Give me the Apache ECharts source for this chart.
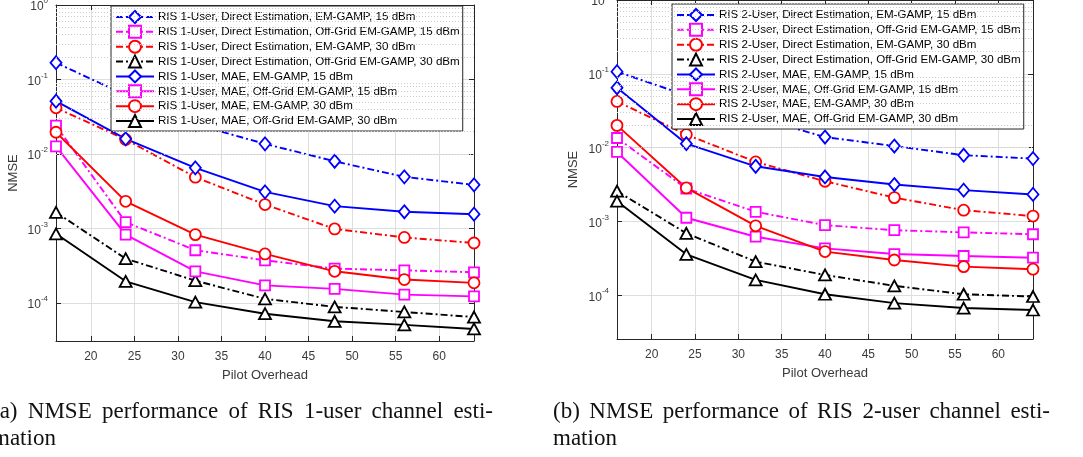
<!DOCTYPE html>
<html>
<head>
<meta charset="utf-8">
<script src="https://cdn.jsdelivr.net/npm/echarts@6/dist/echarts.min.js"></script>
<style>
  html, body { margin: 0; padding: 0; background: #fff; }
  #chart { width: 1083px; height: 457px; }
</style>
</head>
<body>
<div id="chart"></div>
<script>
// pilot overhead (x axis)
const pilotOverhead = [16, 24, 32, 40, 48, 56, 64];

// (a) RIS 1-user, NMSE
const u1DirEm15 = [0.168, 0.062, 0.025, 0.0137, 0.0080, 0.00494, 0.00386];
const u1DirOff15 = [0.024, 0.00122, 0.000512, 0.000375, 0.00029, 0.000275, 0.000259];
const u1DirEm30 = [0.0417, 0.0157, 0.00489, 0.0021, 0.00099, 0.00076, 0.00064];
const u1DirOff30 = [0.00165, 0.000395, 0.0002, 0.000114, 0.000089, 0.000076, 0.000065];
const u1MaeEm15 = [0.0512, 0.016, 0.00653, 0.00311, 0.0020, 0.00168, 0.00156];
const u1MaeOff15 = [0.0127, 0.00083, 0.000267, 0.000173, 0.000155, 0.00013, 0.000123];
const u1MaeEm30 = [0.0196, 0.00232, 0.00083, 0.000457, 0.000267, 0.000207, 0.000187];
const u1MaeOff30 = [0.00085, 0.000196, 0.000103, 0.000072, 0.000057, 0.000051, 0.000045];

// (b) RIS 2-user
const u2DirEm15 = [0.107, 0.051, 0.026, 0.0139, 0.0105, 0.00788, 0.0071];
const u2DirOff15 = [0.0135, 0.00279, 0.00135, 0.00089, 0.00076, 0.00071, 0.00067];
const u2DirEm30 = [0.0422, 0.015, 0.0064, 0.0035, 0.0021, 0.00142, 0.00118];
const u2DirOff30 = [0.00257, 0.00069, 0.000285, 0.000188, 0.000134, 0.000103, 0.000096];
const u2MaeEm15 = [0.0646, 0.0113, 0.00558, 0.0040, 0.00316, 0.00265, 0.00232];
const u2MaeOff15 = [0.00873, 0.00112, 0.00062, 0.000431, 0.000361, 0.00034, 0.000322];
const u2MaeEm30 = [0.020, 0.00284, 0.00087, 0.00039, 0.0003, 0.000244, 0.000225];
const u2MaeOff30 = [0.00188, 0.000358, 0.000161, 0.000103, 0.000078, 0.000067, 0.000063];

const labels1 = [
  "RIS 1-User, Direct Estimation, EM-GAMP, 15 dBm",
  "RIS 1-User, Direct Estimation, Off-Grid EM-GAMP, 15 dBm",
  "RIS 1-User, Direct Estimation, EM-GAMP, 30 dBm",
  "RIS 1-User, Direct Estimation, Off-Grid EM-GAMP, 30 dBm",
  "RIS 1-User, MAE, EM-GAMP, 15 dBm",
  "RIS 1-User, MAE, Off-Grid EM-GAMP, 15 dBm",
  "RIS 1-User, MAE, EM-GAMP, 30 dBm",
  "RIS 1-User, MAE, Off-Grid EM-GAMP, 30 dBm",
];
const labels2 = labels1.map((s) => s.replace("RIS 1-User", "RIS 2-User"));
const values1 = [u1DirEm15, u1DirOff15, u1DirEm30, u1DirOff30, u1MaeEm15, u1MaeOff15, u1MaeEm30, u1MaeOff30];
const values2 = [u2DirEm15, u2DirOff15, u2DirEm30, u2DirOff30, u2MaeEm15, u2MaeOff15, u2MaeEm30, u2MaeOff30];

const captionA = ["(a) NMSE performance of RIS 1-user channel esti-", "mation"];
const captionB = ["(b) NMSE performance of RIS 2-user channel esti-", "mation"];

// marker / line look, one per curve (same order as the labels)
const looks = [
  { color: "#0000ff", symbol: "diamond", size: [11, 13], dash: true },
  { color: "#ff00ff", symbol: "rect", size: [10, 10], dash: true },
  { color: "#ff0000", symbol: "circle", size: 11, dash: true },
  { color: "#000000", symbol: "triangle", size: [12, 11], dash: true },
  { color: "#0000ff", symbol: "diamond", size: [11, 13], dash: false },
  { color: "#ff00ff", symbol: "rect", size: [10, 10], dash: false },
  { color: "#ff0000", symbol: "circle", size: 11, dash: false },
  { color: "#000000", symbol: "triangle", size: [12, 11], dash: false },
];
const dashDot = [7, 3, 2, 3];
const axisColor = "#262626";
const labelColor = "#3a3a3a";
const sans = "Liberation Sans";

const chartDom = document.getElementById("chart");
const chart = echarts.init(chartDom);

const pow10Label = (v) => {
  const lg = Math.log10(v);
  const e = Math.round(lg);
  if (Math.abs(lg - e) > 0.01) return "";
  return "{b|10}{s|" + e + "}";
};

const minorValues = (lo, hi) => {
  const out = [];
  for (let e = Math.floor(Math.log10(lo)); e < Math.ceil(Math.log10(hi)); e++) {
    for (let k = 2; k <= 9; k++) {
      const v = k * Math.pow(10, e);
      if (v > lo && v < hi) out.push({ yAxis: v });
    }
  }
  return out;
};

const makeAxes = (gi, yMin, nameGap) => {
  const xa = {
    type: "value",
    gridIndex: gi,
    min: 16,
    max: 64,
    splitNumber: 10,
    name: "Pilot Overhead",
    nameLocation: "middle",
    nameGap: 28,
    nameTextStyle: { fontFamily: sans, fontSize: 13, color: labelColor },
    axisLine: { show: true, lineStyle: { color: axisColor, width: 1 } },
    axisTick: { show: true, inside: true, length: 5, lineStyle: { color: axisColor } },
    axisLabel: {
      showMinLabel: false,
      showMaxLabel: false,
      margin: 10,
      fontFamily: sans,
      fontSize: 12,
      color: labelColor,
    },
    splitLine: { show: true, lineStyle: { color: "#dedede", width: 1 } },
  };
  const xTop = {
    type: "value",
    gridIndex: gi,
    position: "top",
    min: 16,
    max: 64,
    splitNumber: 10,
    axisLine: { show: true, lineStyle: { color: axisColor, width: 1 } },
    axisTick: { show: true, inside: true, length: 5, lineStyle: { color: axisColor } },
    axisLabel: { show: false },
    splitLine: { show: false },
  };
  const ya = {
    type: "log",
    logBase: 10,
    gridIndex: gi,
    min: yMin,
    max: 1,
    name: "NMSE",
    nameLocation: "middle",
    nameRotate: 90,
    nameGap: nameGap,
    nameTextStyle: { fontFamily: sans, fontSize: 13, color: labelColor },
    axisLine: { show: true, lineStyle: { color: axisColor, width: 1 } },
    axisTick: { show: true, inside: true, length: 5, lineStyle: { color: axisColor } },
    axisLabel: {
      margin: 8,
      formatter: pow10Label,
      rich: {
        b: { fontFamily: sans, fontSize: 12, color: labelColor, lineHeight: 16, verticalAlign: "bottom" },
        s: { fontFamily: sans, fontSize: 8, color: labelColor, lineHeight: 16, verticalAlign: "top" },
      },
    },
    splitLine: { show: true, lineStyle: { color: "#dedede", width: 1 } },
  };
  const yRight = {
    type: "log",
    logBase: 10,
    gridIndex: gi,
    position: "right",
    min: yMin,
    max: 1,
    axisLine: { show: true, lineStyle: { color: axisColor, width: 1 } },
    axisTick: { show: true, inside: true, length: 5, lineStyle: { color: axisColor } },
    axisLabel: { show: false },
    splitLine: { show: false },
  };
  return { x: [xa, xTop], y: [ya, yRight] };
};

const makeSeries = (labels, values, axisIdx, yMin) => {
  const list = [
    {
      name: "minor-grid-" + axisIdx,
      type: "line",
      xAxisIndex: axisIdx,
      yAxisIndex: axisIdx,
      data: [],
      z: 1,
      silent: true,
      markLine: {
        silent: true,
        symbol: "none",
        animation: false,
        label: { show: false },
        lineStyle: { color: "#cccccc", type: [1, 2], width: 1 },
        emphasis: { disabled: true },
        data: minorValues(yMin, 1),
      },
    },
  ];
  labels.forEach((name, i) => {
    const lk = looks[i];
    list.push({
      name: name,
      type: "line",
      xAxisIndex: axisIdx,
      yAxisIndex: axisIdx,
      z: 3,
      data: pilotOverhead.map((x, j) => [x, values[i][j]]),
      symbol: lk.symbol,
      symbolSize: lk.size,
      showSymbol: true,
      showAllSymbol: true,
      itemStyle: { color: "#ffffff", borderColor: lk.color, borderWidth: 1.8 },
      lineStyle: { color: lk.color, width: 1.9, type: lk.dash ? dashDot : "solid" },
      emphasis: { disabled: true },
    });
  });
  return list;
};

const makeLegend = (labels, left, top) => ({
  data: labels,
  left: left,
  top: top,
  orient: "vertical",
  itemWidth: 38,
  itemHeight: 15,
  itemGap: 0.86,
  padding: [4, 3, 3, 4],
  backgroundColor: "#ffffff",
  borderColor: axisColor,
  borderWidth: 1,
  borderRadius: 0,
  selectedMode: false,
  textStyle: { fontFamily: sans, fontSize: 11.6, color: "#000000", padding: [0, 0, 0, -1] },
});

// justified caption lines, placed word by word
const measureCtx = document.createElement("canvas").getContext("2d");
const capFont = '23px "Liberation Serif"';
measureCtx.font = capFont;
const captionWords = (line, x0, x1, y, justify) => {
  const words = line.split(" ");
  const widths = words.map((w) => measureCtx.measureText(w).width);
  const total = widths.reduce((a, b) => a + b, 0);
  const gap = justify && words.length > 1 ? (x1 - x0 - total) / (words.length - 1) : measureCtx.measureText(" ").width;
  let x = x0;
  return words.map((w, i) => {
    const el = {
      type: "text",
      x: x,
      y: y,
      style: { text: w, font: capFont, fill: "#111", verticalAlign: "middle", align: "left" },
    };
    x += widths[i] + gap;
    return el;
  });
};

const yMinA = 3.1e-5;
const yMinB = 2.55e-5;
const axesA = makeAxes(0, yMinA, 36);
const axesB = makeAxes(1, yMinB, 37);

const option = {
  animation: false,
  backgroundColor: "#ffffff",
  grid: [
    { left: 56, top: 5, width: 418, height: 336, show: true, backgroundColor: "#fff", borderColor: axisColor, borderWidth: 0, outerBoundsMode: "none" },
    { left: 617, top: 0, width: 416, height: 339, show: true, backgroundColor: "#fff", borderColor: axisColor, borderWidth: 0, outerBoundsMode: "none" },
  ],
  xAxis: [...axesA.x, ...axesB.x],
  yAxis: [...axesA.y, ...axesB.y],
  legend: [makeLegend(labels1, 111, 6), makeLegend(labels2, 672, 4)],
  series: [...makeSeries(labels1, values1, 0, yMinA), ...makeSeries(labels2, values2, 2, yMinB)],
  graphic: [
    ...captionWords(captionA[0], -8, 493, 412, true),
    ...captionWords(captionA[1], -8, 493, 439, false),
    ...captionWords(captionB[0], 553, 1050, 412, true),
    ...captionWords(captionB[1], 553, 1050, 439, false),
  ],
};

chart.setOption(option);
</script>
</body>
</html>
